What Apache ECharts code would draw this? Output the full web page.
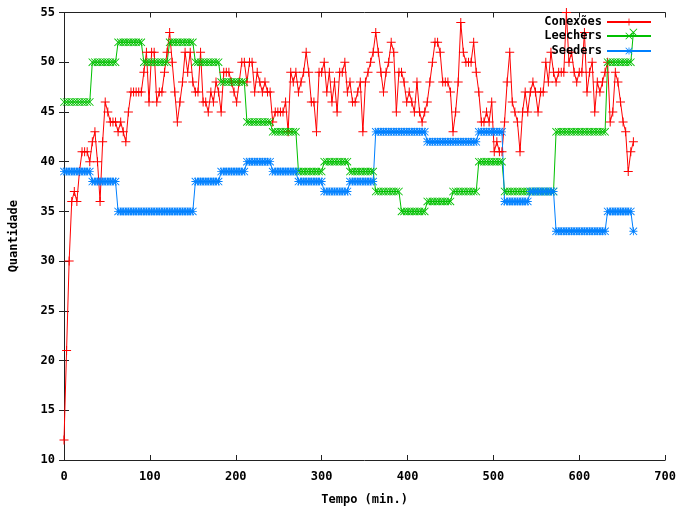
<!DOCTYPE html>
<html><head><meta charset="utf-8">
<script src="https://cdn.jsdelivr.net/npm/echarts@6/dist/echarts.min.js"></script>
<style>html,body{margin:0;padding:0;background:#fff}#c{width:679px;height:511px}</style>
</head><body><div id="c"></div>
<script>
// sample times (minutes)
const times = [
0,3,6,9,12,15,18,21,24,27,
30,33,36,39,42,45,48,51,54,57,
60,63,66,69,72,75,78,81,84,87,
90,93,96,99,102,105,108,111,114,117,
120,123,126,129,132,135,138,141,144,147,
150,153,156,159,162,165,168,171,174,177,
180,183,186,189,192,195,198,201,204,207,
210,213,216,219,222,225,228,231,234,237,
240,243,246,249,252,255,258,261,264,267,
270,273,276,279,282,285,288,291,294,297,
300,303,306,309,312,315,318,321,324,327,
330,333,336,339,342,345,348,351,354,357,
360,363,366,369,372,375,378,381,384,387,
390,393,396,399,402,405,408,411,414,417,
420,423,426,429,432,435,438,441,444,447,
450,453,456,459,462,465,468,471,474,477,
480,483,486,489,492,495,498,501,504,507,
510,513,516,519,522,525,528,531,534,537,
540,543,546,549,552,555,558,561,564,567,
570,573,576,579,582,585,588,591,594,597,
600,603,606,609,612,615,618,621,624,627,
630,633,636,639,642,645,648,651,654,657,
660,663];

const conexoes = [
12,21,30,36,37,36,39,41,41,41,
40,42,43,40,36,42,46,45,44,44,
44,43,44,43,42,45,47,47,47,47,
47,49,51,46,51,51,46,47,47,49,
51,53,50,47,44,46,48,51,49,51,
48,47,47,51,46,46,45,47,46,48,
47,45,49,49,49,48,47,46,48,50,
50,48,50,50,47,49,48,47,48,47,
47,44,45,45,45,45,46,43,49,48,
49,47,48,49,51,49,46,46,43,49,
49,50,47,49,46,48,45,49,49,50,
47,48,46,46,47,48,43,48,49,50,
51,53,51,49,47,49,50,52,51,45,
49,49,48,46,47,46,45,48,45,44,
45,46,48,50,52,52,51,48,48,48,
47,43,45,48,54,51,50,50,50,52,
49,47,44,44,45,44,46,41,42,41,
41,44,48,51,46,45,44,41,45,47,
45,47,48,47,45,47,47,50,48,51,
49,48,49,49,49,55,50,51,49,48,
49,49,53,47,49,50,45,48,47,48,
49,50,44,45,49,48,46,44,43,39,
41,42];

const leechers = [
46,46,46,46,46,46,46,46,46,46,
46,50,50,50,50,50,50,50,50,50,
50,52,52,52,52,52,52,52,52,52,
52,50,50,50,50,50,50,50,50,50,
50,52,52,52,52,52,52,52,52,52,
52,50,50,50,50,50,50,50,50,50,
50,48,48,48,48,48,48,48,48,48,
48,44,44,44,44,44,44,44,44,44,
44,43,43,43,43,43,43,43,43,43,
43,39,39,39,39,39,39,39,39,39,
39,40,40,40,40,40,40,40,40,40,
40,39,39,39,39,39,39,39,39,39,
39,37,37,37,37,37,37,37,37,37,
37,35,35,35,35,35,35,35,35,35,
35,36,36,36,36,36,36,36,36,36,
36,37,37,37,37,37,37,37,37,37,
37,40,40,40,40,40,40,40,40,40,
40,37,37,37,37,37,37,37,37,37,
37,37,37,37,37,37,37,37,37,37,
37,43,43,43,43,43,43,43,43,43,
43,43,43,43,43,43,43,43,43,43,
43,50,50,50,50,50,50,50,50,50,
50,53];

const seeders = [
39,39,39,39,39,39,39,39,39,39,
39,38,38,38,38,38,38,38,38,38,
38,35,35,35,35,35,35,35,35,35,
35,35,35,35,35,35,35,35,35,35,
35,35,35,35,35,35,35,35,35,35,
35,38,38,38,38,38,38,38,38,38,
38,39,39,39,39,39,39,39,39,39,
39,40,40,40,40,40,40,40,40,40,
40,39,39,39,39,39,39,39,39,39,
39,38,38,38,38,38,38,38,38,38,
38,37,37,37,37,37,37,37,37,37,
37,38,38,38,38,38,38,38,38,38,
38,43,43,43,43,43,43,43,43,43,
43,43,43,43,43,43,43,43,43,43,
43,42,42,42,42,42,42,42,42,42,
42,42,42,42,42,42,42,42,42,42,
42,43,43,43,43,43,43,43,43,43,
43,36,36,36,36,36,36,36,36,36,
36,37,37,37,37,37,37,37,37,37,
37,33,33,33,33,33,33,33,33,33,
33,33,33,33,33,33,33,33,33,33,
33,35,35,35,35,35,35,35,35,35,
35,33];

const seriesNames = ['Conexões', 'Leechers', 'Seeders'];
const xTitle = 'Tempo (min.)';
const yTitle = 'Quantidade';

const pair = (vals) => vals.map((v, i) => [times[i], v]);

const FONT = '"DejaVu Sans Mono", "Liberation Mono", monospace';
const txt = { fontFamily: FONT, fontWeight: 'bold', fontSize: 12, color: '#000' };

const PLUS = 'path://M4,0H5V9H4Z M0,4H9V5H0Z';
const CROSS = 'path://M0,0.7L0.7,0L9,8.3L8.3,9Z M8.3,0L9,0.7L0.7,9L0,8.3Z';
const STAR = 'path://M4,0H5V9H4Z M0,4H9V5H0Z M0,0.7L0.7,0L9,8.3L8.3,9Z M8.3,0L9,0.7L0.7,9L0,8.3Z';

const axisLine = { show: true, lineStyle: { color: '#222', width: 1 } };
const tick = { show: true, inside: true, length: 5, lineStyle: { color: '#222' } };

function mkSeries(name, vals, color, sym, size) {
  return {
    name, type: 'line', data: pair(vals),
    symbol: sym, symbolSize: size, showAllSymbol: true,
    lineStyle: { color, width: 1 },
    itemStyle: { color, borderWidth: 0 },
    emphasis: { disabled: true },
    animation: false
  };
}

function mkLegend(name, top) {
  return {
    data: [name], orient: 'vertical', right: 27, top, padding: 0,
    align: 'right', itemWidth: 44, itemHeight: 9, itemGap: 4,
    textStyle: txt, selectedMode: false
  };
}

const chart = echarts.init(document.getElementById('c'), null, { renderer: 'canvas' });
chart.setOption({
  animation: false,
  backgroundColor: '#fff',
  grid: { left: 62, right: 13, top: 12.5, bottom: 42.5 },
  legend: [mkLegend(seriesNames[0], 16), mkLegend(seriesNames[1], 30), mkLegend(seriesNames[2], 45)],
  xAxis: [
    { type: 'value', min: 0, max: 700, interval: 100, position: 'bottom',
      axisLine, axisTick: tick, splitLine: { show: false },
      axisLabel: Object.assign({ margin: 11 }, txt),
      name: xTitle, nameLocation: 'middle', nameGap: 34, nameTextStyle: txt },
    { type: 'value', min: 0, max: 700, interval: 100, position: 'top',
      axisLine, axisTick: tick, splitLine: { show: false }, axisLabel: { show: false } }
  ],
  yAxis: [
    { type: 'value', min: 10, max: 55, interval: 5, position: 'left',
      axisLine, axisTick: tick, splitLine: { show: false },
      axisLabel: Object.assign({ margin: 9 }, txt),
      name: yTitle, nameLocation: 'middle', nameGap: 44, nameTextStyle: txt },
    { type: 'value', min: 10, max: 55, interval: 5, position: 'right',
      axisLine, axisTick: tick, splitLine: { show: false }, axisLabel: { show: false } }
  ],
  series: [
    mkSeries(seriesNames[0], conexoes, '#ff0000', PLUS, 9),
    mkSeries(seriesNames[1], leechers, '#00c000', CROSS, 8),
    mkSeries(seriesNames[2], seeders, '#0080ff', STAR, 8)
  ]
});
</script>
</body></html>
